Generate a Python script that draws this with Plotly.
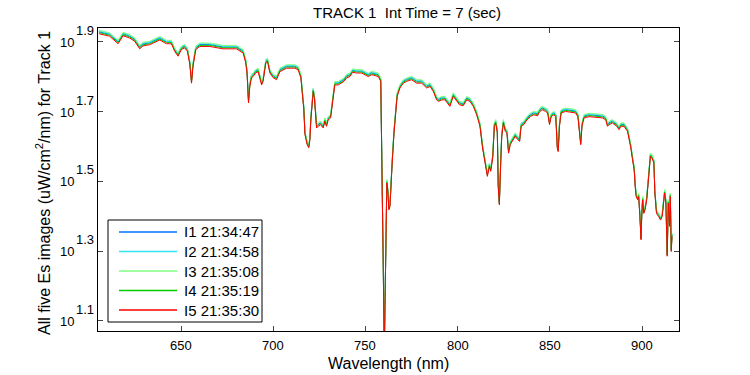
import plotly.graph_objects as go

# Wavelength (nm) and irradiance of image I5 (uW/cm^2/nm)
wavelength = [605.5, 611.3, 615.9, 618.6, 622.2, 624.9, 627.6, 629.4, 633.0, 636.7,
              638.5, 642.1, 644.8, 646.6, 648.4, 650.2, 652.0, 653.5, 654.8, 655.7,
              656.5, 658.0, 660.2, 665.6, 672.8, 680.1, 683.7, 685.1, 685.8, 686.6,
              687.3, 688.2, 689.1, 690.4, 691.8, 693.7, 694.5, 696.0, 696.9, 698.2,
              700.0, 701.8, 703.6, 707.2, 711.7, 713.5, 715.0, 715.9, 716.6, 717.2,
              718.4, 719.3, 719.9, 720.4, 721.1, 721.7, 722.4, 723.0, 723.5, 724.4,
              725.7, 727.1, 728.0, 728.9, 729.8, 731.1, 731.7, 732.5, 733.4, 735.2,
              737.1, 738.3, 739.8, 741.6, 743.0, 745.2, 747.9, 749.7, 751.5, 753.4,
              755.2, 757.0, 758.3, 758.8, 759.1, 759.7, 760.2, 760.7, 761.1, 761.6,
              762.2, 762.7, 763.3, 763.8, 764.5, 765.5, 766.4, 767.2, 768.7, 770.5,
              772.3, 775.0, 777.8, 780.5, 783.2, 785.0, 786.8, 788.6, 789.5, 791.4,
              793.1, 794.9, 795.8, 797.6, 799.5, 800.9, 803.0, 804.9, 806.7, 808.5,
              810.3, 812.1, 813.5, 814.8, 816.1, 817.2, 817.9, 819.0, 819.9, 820.6,
              821.5, 822.0, 822.6, 823.4, 823.9, 824.8, 825.8, 826.7, 827.6, 828.5,
              830.3, 831.2, 832.5, 833.6, 834.4, 835.8, 837.6, 839.4, 841.2, 843.4,
              843.9, 845.8, 847.6, 848.8, 849.8, 850.7, 852.1, 853.2, 854.0, 854.5,
              855.2, 856.1, 858.5, 861.2, 863.9, 865.2, 866.1, 866.7, 867.4, 868.5,
              871.2, 873.9, 876.7, 878.5, 880.3, 881.2, 882.1, 883.9, 886.3, 887.5,
              888.4, 890.2, 892.1, 893.0, 893.9, 894.8, 895.7, 896.3, 896.8, 897.6,
              898.1, 898.8, 899.4, 899.8, 900.3, 900.9, 901.6, 902.5, 903.4, 904.0,
              904.5, 905.3, 906.4, 906.9, 907.8, 908.9, 910.0, 910.9, 911.8, 912.2,
              912.9, 913.6, 914.2, 914.9, 915.3, 915.8, 916.2]

es_i5 = [83.9, 82.5, 78.5, 82.8, 81.5, 79.8, 75.9, 77.4, 78.0, 79.8,
         80.5, 78.5, 78.5, 74.6, 72.3, 75.5, 76.4, 74.6, 68.4, 60.5,
         67.6, 75.5, 77.1, 77.1, 75.9, 75.9, 73.8, 69.2, 64.7, 53.1,
         59.2, 62.7, 63.2, 64.7, 65.3, 59.8, 61.2, 69.2, 69.8, 64.7,
         62.7, 61.9, 65.3, 66.8, 66.8, 66.1, 62.7, 55.5, 50.8, 43.1,
         40.3, 39.5, 41.7, 47.5, 53.1, 57.3, 54.2, 48.5, 45.0, 45.5,
         46.0, 45.0, 47.0, 45.5, 47.5, 48.1, 51.4, 56.6, 59.8, 59.8,
         60.5, 61.2, 62.7, 63.2, 65.0, 64.7, 64.7, 64.0, 63.2, 64.0,
         63.5, 63.2, 61.2, 42.6, 26.2, 17.3, 10.0, 17.0, 22.5, 31.3,
         29.3, 26.2, 26.8, 32.0, 35.7, 43.6, 50.8, 55.5, 58.6, 60.5,
         61.2, 61.9, 60.5, 60.5, 58.6, 59.2, 57.3, 54.2, 53.6, 54.2,
         54.2, 52.5, 51.9, 55.5, 53.6, 52.5, 52.1, 54.2, 53.6, 51.9,
         49.1, 45.5, 39.4, 35.7, 32.7, 34.9, 33.8, 36.9, 45.5, 46.5,
         43.6, 30.5, 27.1, 36.5, 42.6, 46.5, 44.0, 43.6, 38.1, 40.3,
         41.7, 42.6, 41.7, 41.2, 45.5, 46.0, 47.5, 48.5, 49.1, 48.8,
         49.7, 50.8, 50.2, 49.7, 46.0, 48.5, 49.1, 48.5, 39.4, 38.5,
         45.5, 49.7, 50.2, 49.9, 49.7, 48.5, 44.0, 40.3, 45.5, 48.1,
         48.5, 48.3, 48.1, 48.1, 47.5, 45.5, 46.0, 46.5, 45.5, 44.5,
         45.5, 45.5, 44.0, 41.7, 39.4, 36.5, 34.1, 30.3, 28.6, 28.0,
         28.6, 25.1, 21.5, 25.1, 28.0, 25.6, 26.2, 28.0, 32.0, 36.5,
         37.3, 36.9, 35.7, 29.3, 25.6, 25.1, 24.5, 25.1, 27.4, 29.3,
         27.4, 19.3, 27.4, 23.5, 28.6, 19.9, 22.0]

# Level of each image relative to I5
series_names = ["I1 21:34:47", "I2 21:34:58", "I3 21:35:08", "I4 21:35:19", "I5 21:35:30"]
series_ratio = [1.013, 1.018, 1.023, 1.007, 1.000]
series_colors = ["#0072FF", "#33E6F0", "#80FF80", "#00CC00", "#FF0000"]

ytick_exp = ["1.1", "1.3", "1.5", "1.7", "1.9"]
ytick_log = [1.1, 1.3, 1.5, 1.7, 1.9]
xtick_vals = [650, 700, 750, 800, 850, 900]

FONT = "Liberation Sans, Arial, sans-serif"

# plot-area geometry in pixels (style, not data)
L, R, T, B = 98, 679, 28, 331
W, H = R - L, B - T


def px(xp):
    return (xp - L) / W


def py(yp):
    return (B - yp) / H


fig = go.Figure()
for name, ratio, color in zip(series_names, series_ratio, series_colors):
    fig.add_trace(go.Scatter(
        x=wavelength, y=[v * ratio for v in es_i5], mode="lines", name=name,
        line=dict(color=color, width=1), showlegend=False, hoverinfo="skip",
    ))

annotations = []
# y tick labels: "10" with exponent
for lv, ex in zip(ytick_log, ytick_exp):
    annotations.append(dict(xref="paper", yref="y", x=px(74.5), y=lv, text="10",
                            xanchor="right", yanchor="middle", yshift=-0.5,
                            showarrow=False, borderpad=0,
                            font=dict(size=13, family=FONT, color="black")))
    annotations.append(dict(xref="paper", yref="y", x=px(74.5), y=lv, text=ex,
                            xanchor="left", yanchor="middle", yshift=11.5,
                            showarrow=False, borderpad=0,
                            font=dict(size=13, family=FONT, color="black")))
# x tick labels
for xv in xtick_vals:
    annotations.append(dict(xref="x", yref="paper", x=xv, y=0, text=str(xv),
                            xanchor="center", yanchor="middle", yshift=-14,
                            showarrow=False, borderpad=0,
                            font=dict(size=13, family=FONT, color="black")))

# axis titles
annotations.append(dict(xref="paper", yref="paper", x=0.5, y=0, text="Wavelength (nm)",
                        xanchor="center", yanchor="middle", yshift=-(363 - B),
                        showarrow=False, borderpad=0,
                        font=dict(size=16, family=FONT, color="black")))
annotations.append(dict(xref="paper", yref="paper", x=px(43), y=py(183),
                        text="All five Es images (uW/cm<sup>2</sup>/nm) for Track 1",
                        textangle=-90, xanchor="center", yanchor="middle",
                        showarrow=False, borderpad=0,
                        font=dict(size=16, family=FONT, color="black")))

# legend (drawn by hand to match the box layout)
shapes = [dict(type="rect", xref="paper", yref="paper", x0=px(108), x1=px(262),
               y0=py(322), y1=py(220), line=dict(color="black", width=1),
               fillcolor="white", layer="above")]
row_y = [232, 251.5, 271, 290.5, 310]
for name, color, ry in zip(series_names, series_colors, row_y):
    shapes.append(dict(type="line", xref="paper", yref="paper", x0=px(119), x1=px(177),
                       y0=py(ry), y1=py(ry), line=dict(color=color, width=1.3),
                       layer="above"))
    annotations.append(dict(xref="paper", yref="paper", x=px(183), y=py(ry), text=name,
                            xanchor="left", yanchor="middle", showarrow=False,
                            borderpad=0, font=dict(size=15, family=FONT, color="black")))

fig.update_layout(
    width=750, height=375,
    margin=dict(l=L, r=750 - R, t=T, b=375 - B, autoexpand=False),
    paper_bgcolor="white", plot_bgcolor="white",
    font=dict(family=FONT, size=13, color="black"),
    title=dict(text="TRACK 1  Int Time = 7 (sec)", x=399 / 750, xanchor="center",
               xref="paper", y=1 - 12.3 / 375, yanchor="middle",
               font=dict(size=15, family=FONT)),
    showlegend=False,
    hovermode=False,
    annotations=annotations,
    shapes=shapes,
    xaxis=dict(range=[605, 920], tickvals=xtick_vals, ticks="inside", ticklen=5,
               showticklabels=False,
               showline=True, linecolor="black", linewidth=1, mirror="allticks",
               showgrid=False, zeroline=False),
    yaxis=dict(type="log", range=[1.071, 1.940], tickvals=[10 ** v for v in ytick_log],
               ticks="inside", ticklen=5, showticklabels=False,
               showline=True, linecolor="black", linewidth=1, mirror="allticks",
               showgrid=False, zeroline=False),
)

fig.write_html("out.html",
               config={"displayModeBar": False, "staticPlot": True},
               post_script="document.body.style.margin='0';"
                           "document.body.style.overflow='hidden';")
